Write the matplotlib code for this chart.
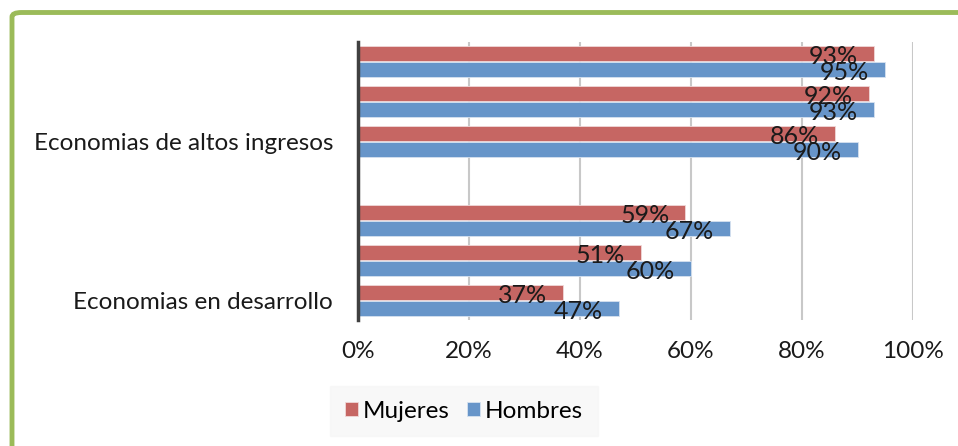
import numpy as np
import matplotlib
matplotlib.use("Agg")
import matplotlib.pyplot as plt
from matplotlib.patches import FancyBboxPatch

plt.rcParams['font.family'] = ['Lato', 'DejaVu Sans']

# slots top to bottom; one empty slot separates the two groups
categories = ["", "", "Economias de altos ingresos", "", "", "", "Economias en desarrollo"]
mujeres = [93, 92, 86, np.nan, 59, 51, 37]
hombres = [95, 93, 90, np.nan, 67, 60, 47]
series_names = ["Mujeres", "Hombres"]
xticks = [0, 20, 40, 60, 80, 100]

red = "#C66663"
blue = "#6795C9"

fig = plt.figure(figsize=(9.58, 4.46), dpi=100)
ax = fig.add_axes([358 / 958, 1 - 320 / 446, (913 - 358) / 958, (320 - 42) / 446])

y = np.arange(len(categories))
h = 0.38
ax.barh(y - 0.2, mujeres, height=h, color=red, edgecolor="#f0d8d8", linewidth=0.6,
        label=series_names[0], zorder=3)
ax.barh(y + 0.2, hombres, height=h, color=blue, edgecolor="#d6e2f0", linewidth=0.6,
        label=series_names[1], zorder=3)

for yy, m, hm in zip(y, mujeres, hombres):
    if np.isnan(m):
        continue
    ax.annotate(f"{m:.0f}%", (m, yy - 0.2), xytext=(-16, -3), textcoords="offset pixels",
                ha="right", va="center", fontsize=18, color="#1a1a1a", zorder=4)
    ax.annotate(f"{hm:.0f}%", (hm, yy + 0.2), xytext=(-16, -3), textcoords="offset pixels",
                ha="right", va="center", fontsize=18, color="#1a1a1a", zorder=4)

ax.set_xlim(0, 100)
ax.set_ylim(len(categories) - 0.5, -0.5)
ax.set_xticks(xticks)
ax.set_xticklabels([f"{t}%" for t in xticks])
ax.set_yticks(y)
ax.set_yticklabels(categories)
ax.tick_params(axis="x", length=0, pad=15, labelsize=17.5, colors="#1a1a1a")
ax.tick_params(axis="y", length=0, pad=18, labelsize=17.5, colors="#1a1a1a")
ax.grid(axis="x", color="#c8c8c8", linewidth=1.5, zorder=0)
for s in ("top", "right", "bottom"):
    ax.spines[s].set_visible(False)
ax.spines["left"].set_color("#404040")
ax.spines["left"].set_linewidth(2.5)
ax.spines["left"].set_zorder(5)

leg = fig.legend(loc="center", bbox_to_anchor=(464 / 958, 1 - 411 / 446), ncol=2,
                 fontsize=17.5, frameon=True, fancybox=False, handlelength=0.55,
                 handleheight=0.55, handletextpad=0.2, columnspacing=0.7,
                 borderpad=0.6, borderaxespad=0)
leg.get_frame().set_facecolor("#f7f7f7")
leg.get_frame().set_edgecolor("#f7f7f7")

border = FancyBboxPatch((12 / 958, -0.2), 1.2, 1 - 12.5 / 446 + 0.2,
                        boxstyle="round,pad=0,rounding_size=0.01",
                        transform=fig.transFigure, facecolor="none",
                        edgecolor="#9BBB59", linewidth=3.5)
fig.patches.append(border)

fig.savefig("out.png", dpi=100)
